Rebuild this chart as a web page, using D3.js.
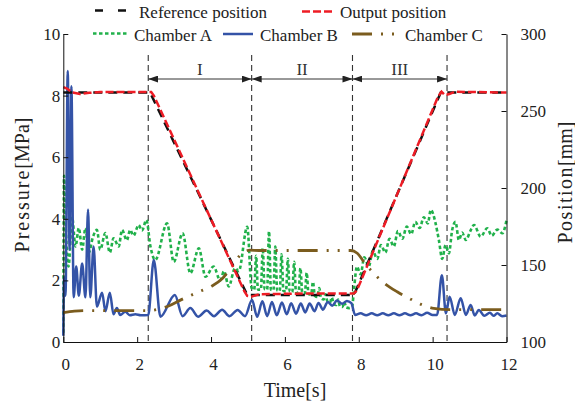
<!DOCTYPE html>
<html>
<head>
<meta charset="utf-8">
<script src="https://cdn.jsdelivr.net/npm/d3@7"></script>
<style>
  body { margin: 0; background: #fff; }
  svg, svg text { font-family: 'Liberation Serif', 'DejaVu Serif', serif; }
</style>
</head>
<body>
<svg id="chart" width="575" height="406"></svg>
<script>
// phase boundaries [s] and their labels
var phaseBounds = [2.30, 5.10, 7.83, 10.39];
var phaseLabels = ["I", "II", "III"];

var timeTicks = [0, 2, 4, 6, 8, 10, 12];
var pressureTicks = [0, 2, 4, 6, 8, 10];
var positionTicks = [100, 150, 200, 250, 300];

// reference position [mm]
var refT   = [0, 2.35, 4.98, 7.87, 10.22, 12];
var refPos = [262, 262, 130.5, 130.5, 262, 262];

// output position [mm]
var outT   = [0, 0.1, 0.25, 0.45, 0.7, 1.0, 2.38, 2.45, 4.9, 4.98, 5.1, 5.3, 6.5, 7.87, 7.95, 10.15, 10.24, 10.33, 10.45, 10.6, 12];
var outPos = [265.5, 264.5, 262, 261, 261.8, 262.3, 262.3, 260, 133, 130, 129.5, 131, 131.5, 131.5, 133.5, 259.5, 262.5, 260.3, 261, 262.5, 262];

// chamber A pressure [MPa]
var tA = [0, 0.02, 0.07, 0.14, 0.24, 0.33, 0.42, 0.51, 0.6, 0.69, 0.8, 0.91, 1.0, 1.14, 1.26, 1.36, 1.5, 1.59, 1.72, 1.81, 1.9, 2.04, 2.13, 2.25,
  2.36, 2.49, 2.81, 2.99, 3.23, 3.44, 3.67, 3.85, 4.07, 4.25, 4.35, 4.48, 4.65, 4.75, 4.98,
  5.1, 5.17, 5.22, 5.27, 5.35, 5.4, 5.45, 5.52, 5.57, 5.62, 5.69, 5.74, 5.79, 5.86, 5.91, 5.96, 6.03, 6.08, 6.13, 6.2, 6.25, 6.3,
  6.37, 6.42, 6.47, 6.54, 6.59, 6.64, 6.71, 6.76, 6.81, 6.88, 6.93, 6.98, 7.05, 7.1, 7.15, 7.22, 7.27, 7.32, 7.39, 7.44, 7.49, 7.56, 7.61, 7.66, 7.74,
  7.82, 7.87, 7.95, 8.05, 8.15, 8.27, 8.38, 8.5, 8.6, 8.72, 8.83, 8.95, 9.06, 9.18, 9.3, 9.42, 9.53, 9.65, 9.76, 9.87, 9.95,
  10.08, 10.17, 10.26, 10.35, 10.44, 10.53, 10.62, 10.71, 10.8, 10.9, 11.02, 11.12, 11.3, 11.48, 11.6, 11.75, 11.89, 12];
var pA = [0.3, 5.4, 3.6, 2.45, 4.05, 3.1, 3.7, 3.0, 3.7, 2.9, 3.4, 3.64, 3.0, 3.54, 2.9, 3.37, 3.1, 3.64, 3.3, 3.64, 3.45, 3.8, 3.62, 3.96,
  3.1, 2.66, 3.85, 2.6, 3.53, 2.23, 3.04, 2.12, 2.45, 2.0, 2.3, 1.8, 2.4, 2.3, 3.74,
  1.75, 1.7, 2.8, 1.7, 1.7, 3.05, 1.72, 1.7, 3.6, 1.7, 1.68, 3.1, 1.68, 1.66, 2.85, 1.66, 1.64, 2.7, 1.64, 1.62, 2.6, 1.62,
  1.6, 2.4, 1.6, 1.58, 2.25, 1.56, 1.54, 1.95, 1.5, 1.46, 1.75, 1.42, 1.38, 1.55, 1.32, 1.28, 1.45, 1.24, 1.2, 1.38, 1.16, 1.14, 1.3, 1.12, 1.1,
  1.15, 1.7, 2.45, 2.2, 2.75, 2.45, 2.95, 2.7, 3.15, 2.9, 3.35, 3.1, 3.6, 3.35, 3.75, 3.5, 3.9, 3.7, 4.05, 3.85, 4.29,
  3.85, 3.3, 2.7, 3.15, 2.88, 3.64, 3.9, 3.31, 3.55, 3.31, 3.6, 3.8, 3.42, 3.69, 3.45, 3.65, 3.53, 3.95];

// chamber B pressure [MPa]
var tB = [0, 0.02, 0.06, 0.12, 0.17, 0.22, 0.28, 0.35, 0.42, 0.51, 0.6, 0.67, 0.73, 0.82, 0.91, 1.05, 1.14, 1.26, 1.36, 1.45, 1.54, 1.68, 1.8, 1.95, 2.1, 2.3,
  2.45, 2.63, 3.02, 3.23, 3.44, 3.65, 3.88, 4.08, 4.3, 4.5, 4.72, 4.92,
  5.11, 5.25, 5.39, 5.52, 5.65, 5.78, 5.92, 6.05, 6.17, 6.3, 6.43, 6.55, 6.67, 6.8, 6.91, 7.03, 7.16, 7.28, 7.41, 7.55, 7.68, 7.8, 7.9,
  8.05, 8.2, 8.35, 8.5, 8.65, 8.8, 8.95, 9.1, 9.25, 9.4, 9.55, 9.7, 9.85, 10.0, 10.12, 10.25, 10.36, 10.46, 10.6, 10.76, 10.9, 11.03, 11.14, 11.25, 11.4, 11.55, 11.65, 11.75, 11.88, 12];
var pB = [0.2, 2.1, 1.5, 8.8, 3.0, 8.3, 1.45, 2.45, 1.5, 2.55, 1.45, 4.3, 1.45, 3.1, 1.15, 1.6, 1.0, 1.6, 0.9, 1.1, 0.88, 0.98, 0.87, 0.9, 0.87, 0.88,
  2.66, 0.82, 1.53, 0.84, 1.1, 0.82, 1.02, 0.84, 1.05, 0.84, 1.04, 0.84,
  1.36, 0.82, 1.32, 0.84, 1.3, 0.87, 1.28, 0.9, 1.26, 0.92, 1.25, 0.96, 1.25, 1.0, 1.27, 1.05, 1.3, 1.18, 1.35, 1.24, 1.33, 1.26, 0.88,
  0.93, 0.87, 0.93, 0.87, 0.93, 0.87, 0.93, 0.87, 0.93, 0.87, 0.93, 0.87, 0.95, 0.88, 0.88, 2.17, 0.93, 1.47, 0.88, 1.42, 0.88, 1.2, 0.86, 1.04, 0.85, 0.95, 0.85, 0.93, 0.84, 0.86];

// chamber C pressure [MPa]
var tC = [0, 0.3, 0.6, 2.3, 2.55, 2.85, 3.17, 3.67, 4.0, 4.3, 4.53, 4.84, 5.05, 5.3, 7.78, 7.96, 8.14, 8.32, 8.64, 9.04, 9.36, 9.67, 10.03, 10.49, 12];
var pC = [0.95, 1.0, 1.02, 1.02, 1.06, 1.17, 1.36, 1.63, 1.8, 2.05, 2.39, 2.88, 2.98, 2.97, 2.97, 2.88, 2.6, 2.34, 1.96, 1.63, 1.42, 1.23, 1.09, 1.05, 1.05];

var FONT = "'Liberation Serif', 'DejaVu Serif', serif";
var svg = d3.select("#chart");

var x = d3.scaleLinear().domain([0, 12]).range([63.3, 506.5]);
var yP = d3.scaleLinear().domain([0, 10]).range([342, 34]);
var yPos = d3.scaleLinear().domain([100, 300]).range([342, 34]);

function zip(t, v) { return t.map(function(d, i) { return [d, v[i]]; }); }

// phase boundaries
svg.selectAll(".bound").data(phaseBounds).enter().append("line")
  .attr("x1", function(d) { return x(d); }).attr("x2", function(d) { return x(d); })
  .attr("y1", 55).attr("y2", 342)
  .attr("stroke", "#333").attr("stroke-width", 1.1).attr("stroke-dasharray", "6,4");

// arrows between boundaries
var defs = svg.append("defs");
defs.append("marker").attr("id", "arr")
  .attr("viewBox", "0 0 10 7").attr("refX", 10).attr("refY", 3.5)
  .attr("markerWidth", 10).attr("markerHeight", 7).attr("markerUnits", "userSpaceOnUse")
  .attr("orient", "auto-start-reverse")
  .append("path").attr("d", "M0,0L10,3.5L0,7Z").attr("fill", "#222");

phaseLabels.forEach(function(lab, i) {
  var a = x(phaseBounds[i]), b = x(phaseBounds[i + 1]);
  svg.append("line").attr("x1", a).attr("x2", b).attr("y1", 79).attr("y2", 79)
    .attr("stroke", "#333").attr("stroke-width", 1)
    .attr("marker-start", "url(#arr)").attr("marker-end", "url(#arr)");
  svg.append("text").attr("x", (a + b) / 2).attr("y", 75)
    .attr("text-anchor", "middle").attr("font-family", FONT).attr("font-size", 17).attr("fill", "#333").text(lab);
});

// series
var lineP = d3.line().x(function(d) { return x(d[0]); }).y(function(d) { return yP(d[1]); }).curve(d3.curveMonotoneX);
var linePos = d3.line().x(function(d) { return x(d[0]); }).y(function(d) { return yPos(d[1]); });

svg.append("path").datum(zip(tA, pA)).attr("d", lineP)
  .attr("fill", "none").attr("stroke", "#21b14b").attr("stroke-width", 2.6).attr("stroke-dasharray", "3.5,2.5");
svg.append("path").datum(zip(tB, pB)).attr("d", lineP)
  .attr("fill", "none").attr("stroke", "#3453a7").attr("stroke-width", 2.5);
svg.append("path").datum(zip(tC, pC)).attr("d", lineP)
  .attr("fill", "none").attr("stroke", "#7b5c1e").attr("stroke-width", 2.8).attr("stroke-dasharray", "20,9,2,9,2,9");
svg.append("path").datum(zip(refT, refPos)).attr("d", linePos)
  .attr("fill", "none").attr("stroke", "#111").attr("stroke-width", 2.5).attr("stroke-dasharray", "9,6");
svg.append("path").datum(zip(outT, outPos)).attr("d", linePos)
  .attr("fill", "none").attr("stroke", "#ee1c25").attr("stroke-width", 2.5).attr("stroke-dasharray", "8,3");

// axes
function styleAxis(g) {
  g.attr("font-family", FONT).attr("font-size", 17);
  g.selectAll("text").attr("fill", "#222");
  g.selectAll("line, path").attr("stroke", "#111");
}
svg.append("g").attr("transform", "translate(63.3,0)")
  .call(d3.axisLeft(yP).tickValues(pressureTicks).tickSize(-5).tickSizeOuter(0).tickPadding(3))
  .call(styleAxis);
svg.append("g").attr("transform", "translate(506.5,0)")
  .call(d3.axisRight(yPos).tickValues(positionTicks).tickSize(-5).tickSizeOuter(0).tickPadding(14))
  .call(styleAxis);
svg.append("g").attr("transform", "translate(0,342)")
  .call(d3.axisBottom(x).tickValues(timeTicks).tickSize(-5).tickSizeOuter(0).tickPadding(16))
  .call(styleAxis)
  .selectAll("text").attr("dx", 2);

// axis titles
svg.append("text").attr("x", 295).attr("y", 397).attr("text-anchor", "middle")
  .attr("font-family", FONT).attr("font-size", 20).attr("fill", "#222").text("Time[s]");
var lt = svg.append("text").attr("transform", "translate(29,185) rotate(-90)")
  .attr("text-anchor", "middle").attr("font-family", FONT).attr("font-size", 20).attr("fill", "#222");
lt.append("tspan").attr("letter-spacing", 2).text("Pressure");
lt.append("tspan").text("[MPa]");
var rt = svg.append("text").attr("transform", "translate(572,182.5) rotate(-90)")
  .attr("text-anchor", "middle").attr("font-family", FONT).attr("font-size", 20).attr("fill", "#222");
rt.append("tspan").attr("letter-spacing", 1.5).text("Position");
rt.append("tspan").text("[mm]");

// legend
var legend = [
  { x1: 95, x2: 127, y: 10.5, color: "#111", dash: "8,15", w: 2.6, label: "Reference position", tx: 139, ty: 18 },
  { x1: 302, x2: 333, y: 11.5, color: "#ee1c25", dash: "8,3", w: 2.5, label: "Output position", tx: 340, ty: 18 },
  { x1: 93, x2: 128, y: 33.5, color: "#21b14b", dash: "3.5,2.5", w: 2.6, label: "Chamber A", tx: 134, ty: 40.5 },
  { x1: 223, x2: 253, y: 34, color: "#3453a7", dash: null, w: 2.5, label: "Chamber B", tx: 260, ty: 40.5 },
  { x1: 352, x2: 400, y: 34, color: "#7b5c1e", dash: "20,9,2,9,2,20", w: 2.8, label: "Chamber C", tx: 405, ty: 40.5 }
];
var lg = svg.append("g");
lg.selectAll("line").data(legend).enter().append("line")
  .attr("x1", function(d) { return d.x1; }).attr("x2", function(d) { return d.x2; })
  .attr("y1", function(d) { return d.y; }).attr("y2", function(d) { return d.y; })
  .attr("stroke", function(d) { return d.color; }).attr("stroke-width", function(d) { return d.w; })
  .attr("stroke-dasharray", function(d) { return d.dash; });
lg.selectAll("text").data(legend).enter().append("text")
  .attr("x", function(d) { return d.tx; }).attr("y", function(d) { return d.ty; })
  .attr("font-family", FONT).attr("font-size", 17).attr("fill", "#222").text(function(d) { return d.label; });
</script>
</body>
</html>
